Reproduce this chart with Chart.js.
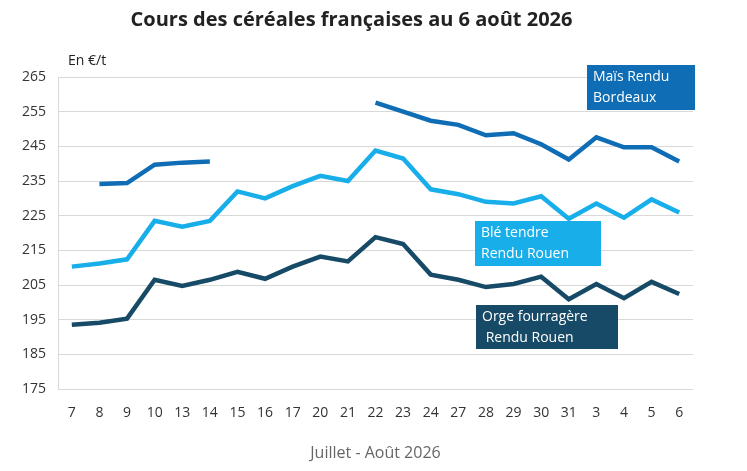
<!DOCTYPE html>
<html>
<head>
<meta charset="utf-8">
<script src="https://cdn.jsdelivr.net/npm/chart.js@4"></script>
<style>
  html, body { margin: 0; background: #fff; }
  #wrap { width: 747px; height: 471px; }
</style>
</head>
<body>
<div id="wrap"><canvas id="c"></canvas></div>
<script>
const days = ["7","8","9","10","13","14","15","16","17","20","21","22","23","24","27","28","29","30","31","3","4","5","6"];
const mais = [null,234.1,234.4,239.7,240.3,240.6,null,null,null,null,null,257.6,255,252.4,251.2,248.2,248.8,245.6,241.2,247.6,244.7,244.7,240.6];
const ble = [210.3,211.2,212.4,223.5,221.8,223.5,232,230,233.5,236.5,235,243.8,241.5,232.6,231.2,229,228.5,230.6,224.1,228.5,224.4,229.7,225.9];
const orge = [193.5,194.1,195.3,206.5,204.7,206.5,208.8,206.8,210.3,213.2,211.8,218.8,216.8,208,206.5,204.4,205.3,207.4,200.9,205.3,201.2,205.9,202.4];
const yTicks = [175,185,195,205,215,225,235,245,255,265];

const colMais = "#0F6DB5", colBle = "#17AEEA", colOrge = "#174A66";

// label boxes and extra text drawn on the canvas
const boxes = {
  id: "boxes",
  afterDraw(chart) {
    const ctx = chart.ctx;
    const items = [
      { x: 587, y: 65, w: 108, h: 45, c: colMais, t: ["Maïs Rendu", "Bordeaux"] },
      { x: 475, y: 221, w: 126, h: 45, c: colBle, t: ["Blé tendre", "Rendu Rouen"] },
      { x: 476, y: 305, w: 142, h: 44, c: colOrge, t: ["Orge fourragère", " Rendu Rouen"] }
    ];
    ctx.save();
    ctx.font = "14px 'Open Sans', sans-serif";
    ctx.textBaseline = "middle";
    items.forEach(b => {
      ctx.fillStyle = b.c;
      ctx.fillRect(b.x, b.y, b.w, b.h);
      ctx.fillStyle = "#fff";
      ctx.fillText(b.t[0], b.x + 6, b.y + 12);
      ctx.fillText(b.t[1], b.x + 6, b.y + 33);
    });
    ctx.fillStyle = "#222";
    ctx.font = "14px 'Open Sans', sans-serif";
    ctx.fillText("En €/t", 68, 61);
    ctx.restore();
  }
};

new Chart(document.getElementById("c"), {
  type: "line",
  data: {
    labels: days,
    datasets: [
      { data: mais, borderColor: colMais },
      { data: ble, borderColor: colBle },
      { data: orge, borderColor: colOrge }
    ].map(d => ({ ...d, borderWidth: 4.5, pointRadius: 0, tension: 0, spanGaps: false }))
  },
  options: {
    responsive: true,
    maintainAspectRatio: false,
    animation: false,
    layout: { padding: { top: 8, right: 54, left: 10, bottom: 4 } },
    plugins: {
      legend: { display: false },
      tooltip: { enabled: false },
      title: {
        display: true,
        text: "Cours des céréales françaises au 6 août 2026",
        color: "#222",
        font: { family: "'Open Sans', sans-serif", size: 20, weight: "bold" },
        padding: { top: 0, bottom: 45 }
      }
    },
    scales: {
      y: {
        min: 175, max: 265,
        afterBuildTicks: ax => { ax.ticks = yTicks.map(v => ({ value: v })); },
        grid: { color: "#d9d9d9", drawTicks: false },
        border: { display: true, color: "#d9d9d9" },
        ticks: { color: "#333", padding: 12, font: { family: "'Open Sans', sans-serif", size: 14 } }
      },
      x: {
        offset: true,
        grid: { display: false },
        border: { display: false },
        ticks: { color: "#333", padding: 8, font: { family: "'Open Sans', sans-serif", size: 14 } },
        title: {
          display: true, text: "Juillet - Août 2026", color: "#666",
          font: { family: "'Open Sans', sans-serif", size: 16 }, padding: { top: 14 }
        }
      }
    }
  },
  plugins: [boxes]
});
</script>
</body>
</html>
